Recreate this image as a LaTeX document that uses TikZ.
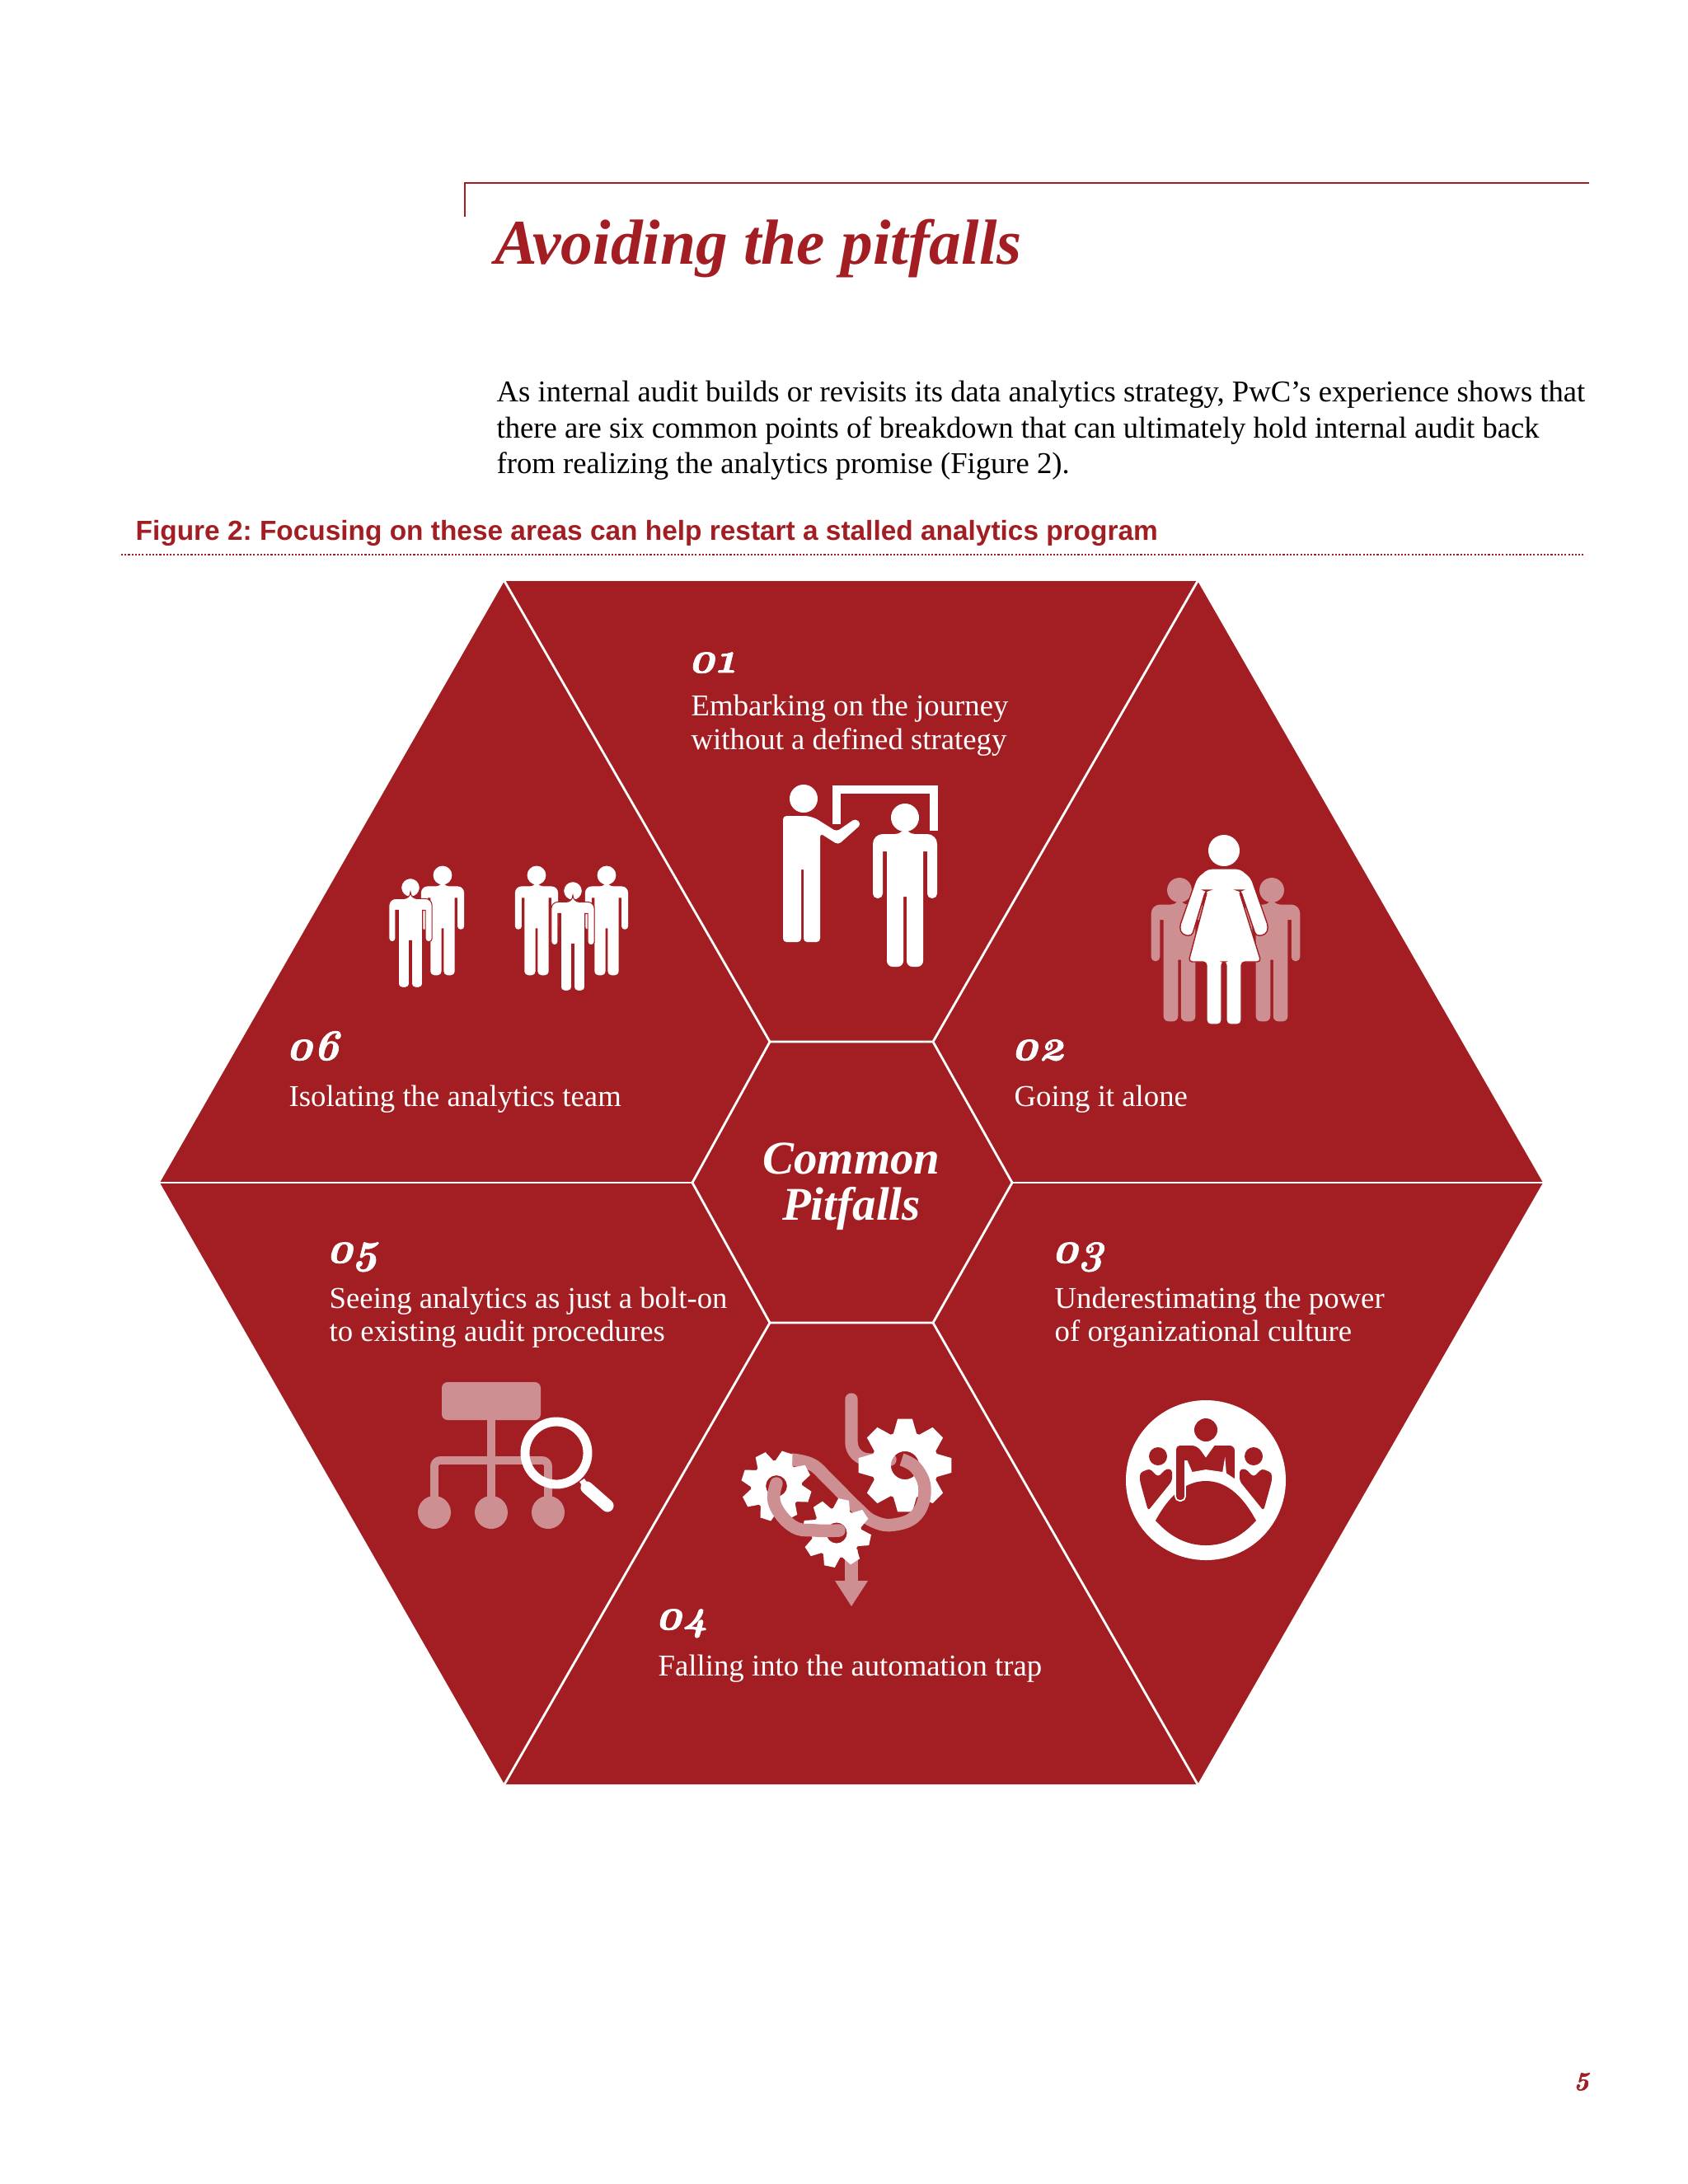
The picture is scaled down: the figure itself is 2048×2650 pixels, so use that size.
\documentclass[tikz,border=0pt]{standalone}
\usepackage{fontspec}
\setmainfont{Liberation Serif}
\setsansfont{Liberation Sans}
\newfontfamily\numfont[Numbers=OldStyle, FakeBold=1.4]{Latin Modern Roman}
\usetikzlibrary{positioning, calc}
\definecolor{pitred}{HTML}{A21E22}
\definecolor{palered}{HTML}{CD8F91}
\tikzset{
  pics/man/.style={code={
    \path[pic actions, scale=#1] (0,0) circle (17);
    \path[pic actions, scale=#1]
      [rounded corners=#1*3.4pt] (0,20) -- (39,20) [rounded corners=#1*1.6pt] -- (39,98) -- (27,98) [sharp corners] -- (27,41) -- (22,41)
      [rounded corners=#1*2pt] -- (22,181) -- (2,181) [sharp corners] -- (2,96) -- (-2,96)
      [rounded corners=#1*2pt] -- (-2,181) -- (-22,181) [sharp corners] -- (-22,41) -- (-27,41)
      [rounded corners=#1*1.6pt] -- (-27,98) -- (-39,98) [rounded corners=#1*3.4pt] -- (-39,20) -- (0,20) -- cycle;
  }},
  pics/gear/.style 2 args={code={
    \fill[white, even odd rule] ({#2-20}:{#1*.72})
      \foreach \k in {0,...,7} {
        -- ({#2+45*\k-20}:{#1*.72}) -- ({#2+45*\k-9}:#1) -- ({#2+45*\k+9}:#1) -- ({#2+45*\k+20}:{#1*.72})
      } -- cycle (0,0) circle ({#1*.3});
  }}
}
\begin{document}
\frenchspacing
\begin{tikzpicture}[
  x=0.01cm, y=-0.01cm,
  bodytext/.style={anchor=base west, inner sep=0, font=\fontsize{10.42}{12}\selectfont},
  pagetitle/.style={anchor=base west, inner sep=0, text=pitred, font=\fontsize{22}{24}\bfseries\itshape\selectfont},
  caption/.style={anchor=base west, inner sep=0, text=pitred, font=\sffamily\fontsize{9.5}{11}\bfseries\selectfont},
  panelnum/.style={anchor=base west, inner sep=0, text=white, font=\numfont\fontsize{15}{17}\bfseries\itshape\selectfont},
  paneltext/.style={anchor=base west, inner sep=0, text=white, font=\fontsize{10.45}{12}\selectfont},
  centertext/.style={anchor=base, inner sep=0, text=white, font=\fontsize{16.2}{18}\bfseries\itshape\selectfont},
  spoke/.style={draw=white, line width=0.8pt},
  solidfig/.style={fill=white},
  edgedfig/.style={fill=white, draw=pitred, line width=0.3pt},
  palefig/.style={fill=palered},
  paleline/.style={draw=palered, line width=4.4pt, line cap=round, line join=round},
  whiteline/.style={draw=white, line width=3pt}
]
  \useasboundingbox (0,0) rectangle (2048,2650);
  \fill[white] (0,0) rectangle (2048,2650);

  \draw[pitred, line width=0.8pt] (564,263) -- (564,222) -- (1928,222);
  \node[pagetitle] (title) at (600,320) {Avoiding the pitfalls};
  \node[bodytext] (line1) at (602,487) {As internal audit builds or revisits its data analytics strategy, PwC’s experience shows that};
  \node[bodytext] (line2) at (602,531) {there are six common points of breakdown that can ultimately hold internal audit back};
  \node[bodytext] (line3) at (602,574) {from realizing the analytics promise (Figure 2).};
  \node[caption] (figcaption) at (164,655) {Figure 2: Focusing on these areas can help restart a stalled analytics program};
  \draw[pitred, line width=0.6pt, dash pattern=on 0.6pt off 0.6pt] (147,673) -- (1921,673);

  \coordinate (o1) at (612,705);
  \coordinate (o2) at (1453,705);
  \coordinate (o3) at (1872,1435);
  \coordinate (o4) at (1453,2165);
  \coordinate (o5) at (612,2165);
  \coordinate (o6) at (194,1435);
  \coordinate (i1) at (934,1264);
  \coordinate (i2) at (1132,1264);
  \coordinate (i3) at (1228,1435);
  \coordinate (i4) at (1132,1605);
  \coordinate (i5) at (934,1605);
  \coordinate (i6) at (840,1435);
  \fill[pitred] (o1) -- (o2) -- (o3) -- (o4) -- (o5) -- (o6) -- cycle;
  \foreach \k in {1,...,6} {
    \draw[spoke] (o\k) -- (i\k);
  }
  \draw[spoke] (i1) -- (i2) -- (i3) -- (i4) -- (i5) -- (i6) -- cycle;

  \node[centertext] (common) at (1033,1424) {Common};
  \node[centertext] (pitfalls) at (1033,1480) {Pitfalls};

  \node[panelnum] (num1) at (834,816) {01};
  \node[paneltext] (text1a) at (838,868) {Embarking on the journey};
  \node[paneltext] (text1b) at (838,909) {without a defined strategy};
  \node[panelnum] (num2) at (1226,1286) {02};
  \node[paneltext] (text2) at (1230,1342) {Going it alone};
  \node[panelnum] (num3) at (1275,1532) {03};
  \node[paneltext] (text3a) at (1279,1587) {Underestimating the power};
  \node[paneltext] (text3b) at (1279,1627) {of organizational culture};
  \node[panelnum] (num4) at (794,1977) {04};
  \node[paneltext] (text4) at (798,2033) {Falling into the automation trap};
  \node[panelnum] (num5) at (395,1532) {05};
  \node[paneltext] (text5a) at (399,1587) {Seeing analytics as just a bolt-on};
  \node[paneltext] (text5b) at (399,1627) {to existing audit procedures};
  \node[panelnum] (num6) at (346,1286) {06};
  \node[paneltext] (text6) at (350,1342) {Isolating the analytics team};

  \fill[white] (975,969) circle (17);
  \fill[white] [rounded corners=2.5pt] (950,990) -- (985,990) [rounded corners=1.2pt] -- (1015,1009) -- (1038,993) -- (1045,1000) -- (1017,1025)
    -- (995,1011) -- (995,1143) -- (975,1143) [sharp corners] -- (975,1055) -- (972,1055) [rounded corners=1.2pt] -- (972,1143) -- (950,1143) -- cycle;
  \draw[whiteline] (1015,1000) -- (1015,958) -- (1133,958) -- (1133,1008);
  \pic[solidfig] at (1098,992) {man=1};

  \pic[palefig] at (1431,1080) {man=.88};
  \pic[palefig] at (1543,1080) {man=.88};
  \fill[white] (1485,1032) circle (19);
  \draw[fill=white, draw=pitred, line width=0.4pt, rounded corners=1.3pt] (1465,1054) -- (1505,1054) -- (1518,1065) -- (1539,1125)
    -- (1536,1134) -- (1524,1136) -- (1505,1080) -- (1503,1080) -- (1530,1167) -- (1506,1167) -- (1506,1243) -- (1488,1243)
    -- (1488,1167) -- (1482,1167) -- (1482,1243) -- (1464,1243) -- (1464,1167) -- (1442,1167) -- (1465,1080) -- (1463,1080)
    -- (1446,1136) -- (1434,1134) -- (1431,1125) -- (1452,1065) -- cycle;

  \fill[white] (1463,1796) circle (97);
  \fill[pitred] (1463,1735) circle (14);
  \fill[pitred] (1405,1767) circle (11);
  \fill[pitred] (1521,1767) circle (11);
  \fill[pitred, rounded corners=1pt] (1383,1787) -- (1395,1782) -- (1405,1792) -- (1415,1782) -- (1422,1783) -- (1422,1797) -- (1393,1833) -- (1383,1797) -- cycle;
  \fill[pitred, rounded corners=1pt] (1543,1787) -- (1531,1782) -- (1521,1792) -- (1511,1782) -- (1504,1783) -- (1504,1797) -- (1533,1833) -- (1543,1797) -- cycle;
  \fill[pitred] (1402,1845) .. controls (1420,1812) and (1440,1797) .. (1463,1797) .. controls (1486,1797) and (1506,1812) .. (1524,1845)
    .. controls (1505,1866) and (1485,1875) .. (1463,1875) .. controls (1441,1875) and (1421,1866) .. (1402,1845) -- cycle;
  \draw[fill=pitred, draw=white, line width=0.5pt] [rounded corners=2pt] (1426,1753) -- (1453,1753) [sharp corners] -- (1463,1767) -- (1473,1753)
    [rounded corners=2pt] -- (1499,1753) [sharp corners] -- (1499,1796) -- (1487,1788) -- (1486,1775) -- (1484,1787) -- (1463,1784) -- (1446,1787) -- (1440,1773) -- (1438,1773)
    [rounded corners=1.5pt] -- (1438,1821) -- (1426,1821) -- cycle;

  \draw[paleline, rounded corners=6pt] (1033,1698) -- (1033,1771) -- (1080,1771);
  \pic at (1098,1778) {gear={57}{0}};
  \draw[paleline, line cap=butt] plot[smooth, tension=.7] coordinates {(1094,1771) (1112,1782) (1122,1808) (1112,1838) (1085,1850) (1060,1846) (1040,1830) (1005,1795) (985,1777) (960,1771)};
  \draw[paleline, line cap=butt] (1033,1880) -- (1033,1922);
  \fill[palered] (1013,1918) -- (1053,1918) -- (1033,1949) -- cycle;
  \pic at (942,1803) {gear={43}{18}};
  \pic at (1015,1860) {gear={42}{12}};
  \draw[paleline] plot[smooth, tension=.7] coordinates {(942,1800) (940,1825) (962,1852) (990,1857) (1018,1857)};

  \fill[palered, rounded corners=2pt] (536,1677) rectangle (656,1723);
  \draw[paleline, line width=2.8pt, line cap=butt, rounded corners=2pt] (527,1830) -- (527,1772) -- (665,1772) -- (665,1830);
  \draw[paleline, line width=2.8pt, line cap=butt] (596,1723) -- (596,1830);
  \foreach \cx in {527,596,665} {
    \fill[palered] (\cx,1835) circle (20);
  }
  \draw[draw=white, line width=3.1pt] (675,1763) circle (38);
  \draw[draw=white, line width=4.3pt, line cap=round] (712,1805) -- (737,1827);
  \draw[draw=white, line width=2pt] (706,1796) -- (712,1805);

  \pic[solidfig] at (537,1062) {man=.67};
  \pic[edgedfig] at (498,1077) {man=.67};
  \pic[solidfig] at (651,1062) {man=.67};
  \pic[solidfig] at (736,1062) {man=.67};
  \pic[edgedfig] at (695,1081) {man=.67};

  \node[anchor=base, inner sep=0, text=pitred, font=\numfont\fontsize{9}{11}\bfseries\itshape\selectfont] (pagenum) at (1920,2530) {5};
\end{tikzpicture}
\end{document}
